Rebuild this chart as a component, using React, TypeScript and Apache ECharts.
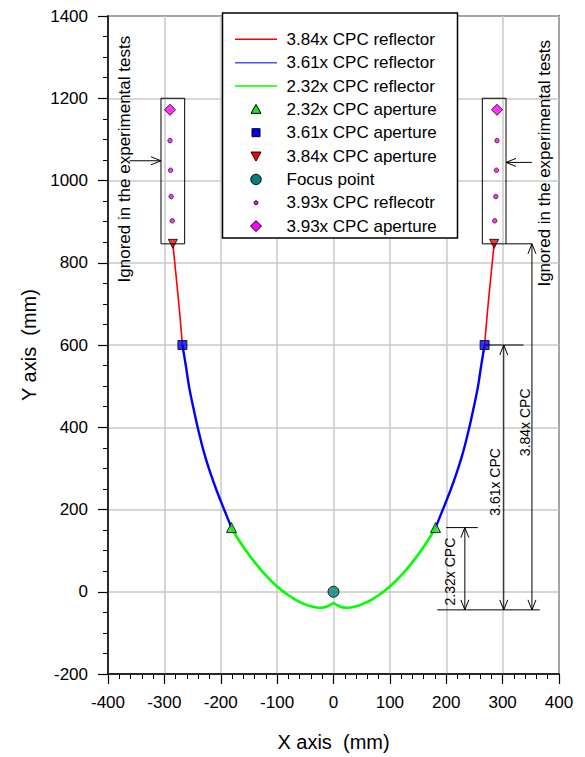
import React, { useEffect, useRef } from "react";
import * as echarts from "echarts";

const FONT = 'Arial, "Liberation Sans", Helvetica, sans-serif';

// Right half of each reflector profile (x >= 0); the left half is its mirror image
const cpc232X = [0, 7, 14, 23, 30, 40, 50, 60, 70, 80, 90, 100, 110, 120, 130, 140, 150, 160, 170, 181];
const cpc232Y = [-28, -33, -37, -39, -38.4, -35.5, -30.7, -24.6, -17.1, -8.4, 1.5, 12.8, 25.6, 39.6, 55, 72, 90, 109.5, 130, 156];
const cpc361X = [181, 194, 207, 218, 230, 241, 249, 256, 262, 268];
const cpc361Y = [156, 200, 245, 287, 340, 400, 450, 497, 550, 600];
const cpc384X = [268, 273, 279, 285];
const cpc384Y = [600, 680, 765, 846];
const cpc393X = [286, 288, 289, 290];
const cpc393Y = [902, 961, 1025, 1097];

// Apertures (right side x, y)
const aperture232 = [181, 156];
const aperture361 = [268, 600];
const aperture384 = [285, 846];
const aperture393 = [290, 1172];
const focusPoint = [0, 0];

const legendNames = [
  "3.84x CPC reflector",
  "3.61x CPC reflector",
  "2.32x CPC reflector",
  "2.32x CPC aperture",
  "3.61x CPC aperture",
  "3.84x CPC aperture",
  "Focus point",
  "3.93x CPC reflecotr",
  "3.93x CPC aperture",
];

const xTicks = { min: -400, max: 400, interval: 100 };
const yTicks = { min: -200, max: 1400, interval: 200 };

const RED = "#ff0000";
const BLUE = "#0000ff";
const GREEN = "#00ff00";
const TRI_GREEN = "#22dd22";
const TEAL = "#008080";
const MAGENTA = "#ff00ff";

const rightSide = (xs: number[], ys: number[]) => xs.map((x, i) => [x, ys[i]]);
const leftSide = (xs: number[], ys: number[]) => xs.map((x, i) => [-x, ys[i]]);
const pair = (p: number[]) => [[-p[0], p[1]], [p[0], p[1]]];

export default function App() {
  const ref = useRef<HTMLDivElement>(null);

  useEffect(() => {
    if (!ref.current) return;
    document.body.style.margin = "0";
    const chart = echarts.init(ref.current, null, { renderer: "svg" });

    const lineSeries = (name: string, color: string, width: number, data: number[][]) => ({
      name,
      type: "line",
      data,
      symbol: "none",
      smooth: 0.3,
      lineStyle: { color, width },
      itemStyle: { color },
      z: 3,
    });

    const green = [
      ...leftSide(cpc232X, cpc232Y).reverse(),
      ...rightSide(cpc232X, cpc232Y).slice(1),
    ];

    const axisCommon = {
      type: "value",
      nameLocation: "middle",
      nameTextStyle: { fontSize: 20, color: "#000", fontFamily: FONT },
      axisLine: { show: true, onZero: false, lineStyle: { color: "#000", width: 1.5 } },
      axisTick: { show: true, length: 10, lineStyle: { color: "#000", width: 1.2 } },
      axisLabel: { fontSize: 17, color: "#000", margin: 20, fontFamily: FONT, formatter: (v: number) => String(v) },
      splitLine: { show: true, lineStyle: { color: "#c8c8c8", width: 1.5 } },
    };

    const option: any = {
      animation: false,
      textStyle: { fontFamily: FONT },
      grid: {
        left: 108,
        right: 26,
        top: 16,
        bottom: 82,
        show: true,
        borderColor: "#000",
        borderWidth: 1.5,
        backgroundColor: "transparent",
      },
      xAxis: {
        ...axisCommon,
        ...xTicks,
        name: "X axis  (mm)",
        nameGap: 58,
        minorTick: { show: true, splitNumber: 5, length: 5, lineStyle: { color: "#000", width: 1 } },
      },
      yAxis: {
        ...axisCommon,
        ...yTicks,
        name: "Y axis  (mm)",
        nameRotate: 90,
        nameGap: 53,
        minorTick: { show: true, splitNumber: 4, length: 5, lineStyle: { color: "#000", width: 1 } },
      },
      series: [
        lineSeries(legendNames[0], RED, 1.6, leftSide(cpc384X, cpc384Y)),
        lineSeries(legendNames[0], RED, 1.6, rightSide(cpc384X, cpc384Y)),
        lineSeries(legendNames[1], BLUE, 2.4, leftSide(cpc361X, cpc361Y)),
        lineSeries(legendNames[1], BLUE, 2.4, rightSide(cpc361X, cpc361Y)),
        lineSeries(legendNames[2], GREEN, 2.6, green),
        {
          name: legendNames[3],
          type: "scatter",
          symbol: "triangle",
          symbolSize: 10,
          data: pair(aperture232),
          itemStyle: { color: TRI_GREEN, borderColor: "#000", borderWidth: 1 },
          z: 5,
        },
        {
          name: legendNames[4],
          type: "scatter",
          symbol: "rect",
          symbolSize: 9,
          data: pair(aperture361),
          itemStyle: { color: BLUE, borderColor: "#000", borderWidth: 1 },
          z: 5,
        },
        {
          name: legendNames[5],
          type: "scatter",
          symbol: "triangle",
          symbolRotate: 180,
          symbolSize: 9,
          data: pair(aperture384),
          itemStyle: { color: RED, borderColor: "#000", borderWidth: 1 },
          z: 5,
        },
        {
          name: legendNames[6],
          type: "scatter",
          symbol: "circle",
          symbolSize: 11,
          data: [focusPoint],
          itemStyle: { color: TEAL, borderColor: "#000", borderWidth: 1 },
          z: 5,
        },
        {
          name: legendNames[7],
          type: "scatter",
          symbol: "circle",
          symbolSize: 4.5,
          data: [...leftSide(cpc393X, cpc393Y), ...rightSide(cpc393X, cpc393Y)],
          itemStyle: { color: MAGENTA, borderColor: "#000", borderWidth: 0.8 },
          z: 5,
        },
        {
          name: legendNames[8],
          type: "scatter",
          symbol: "diamond",
          symbolSize: 11,
          data: pair(aperture393),
          itemStyle: { color: MAGENTA, borderColor: "#000", borderWidth: 1 },
          z: 5,
        },
      ],
    };

    chart.setOption(option);

    const P = (x: number, y: number) => chart.convertToPixel({ gridIndex: 0 }, [x, y]) as number[];
    const stroke = { stroke: "#000", lineWidth: 1, fill: "none" };
    const g: any[] = [];
    const line = (a: number[], b: number[]) =>
      g.push({ type: "line", shape: { x1: a[0], y1: a[1], x2: b[0], y2: b[1] }, style: stroke, z: 10 });
    const head = (tip: number[], from: number[]) => {
      const dx = from[0] - tip[0];
      const dy = from[1] - tip[1];
      const len = Math.hypot(dx, dy) || 1;
      const ux = dx / len, uy = dy / len;
      const L = 10, W = 4;
      g.push({
        type: "polyline",
        shape: {
          points: [
            [tip[0] + ux * L - uy * W, tip[1] + uy * L + ux * W],
            [tip[0], tip[1]],
            [tip[0] + ux * L + uy * W, tip[1] + uy * L - ux * W],
          ],
        },
        style: stroke,
        z: 10,
      });
    };
    const rectD = (x1: number, y1: number, x2: number, y2: number) => {
      const a = P(x1, y2), b = P(x2, y1);
      g.push({
        type: "rect",
        shape: { x: a[0], y: a[1], width: b[0] - a[0], height: b[1] - a[1] },
        style: stroke,
        z: 10,
      });
    };
    const vtext = (x: number, y: number, text: string, size: number) => {
      const p = P(x, y);
      g.push({
        type: "text",
        x: p[0],
        y: p[1],
        rotation: Math.PI / 2,
        style: { text, font: `${size}px ${FONT}`, fill: "#000", align: "center", verticalAlign: "middle" },
        z: 10,
      });
    };

    // boxes around the ignored 3.93x section
    rectD(-306, 846, -264, 1200);
    rectD(264, 846, 306, 1200);
    // pointer arrows
    line(P(-362, 1048), P(-306, 1048));
    head(P(-306, 1048), P(-362, 1048));
    line(P(352, 1044), P(306, 1044));
    head(P(306, 1044), P(352, 1044));
    vtext(-371, 1052, "Ignored in the experimental tests", 17);
    vtext(375, 1042, "Ignored in the experimental tests", 17);

    // dimension lines
    const base = -44;
    line(P(184, base), P(366, base));
    // 3.84x
    line(P(306, 846), P(352, 846));
    line(P(352, 846), P(352, base));
    head(P(352, 846), P(352, base));
    head(P(352, base), P(352, 846));
    vtext(339, 412, "3.84x CPC", 14);
    // 3.61x
    line(P(268, 600), P(337, 600));
    line(P(302, 600), P(302, base));
    head(P(302, 600), P(302, base));
    head(P(302, base), P(302, 600));
    vtext(286, 267, "3.61x CPC", 14);
    // 2.32x
    line(P(200, 156), P(256, 156));
    line(P(233, 156), P(233, base));
    head(P(233, 156), P(233, base));
    head(P(233, base), P(233, 156));
    vtext(206, 49, "2.32x CPC", 14);

    // Legend (drawn as a box with sample marks and labels)
    const LX = 222.5, LY = 13, LW = 235, LH = 225;
    const rowY = (i: number) => 39.3 + i * 23.35;
    const cx = 256;
    const legendBox: any[] = [
      { type: "rect", shape: { x: LX, y: LY, width: LW, height: LH }, style: { fill: "#fff", stroke: "#000", lineWidth: 1.5 }, z: 20 },
    ];
    const lineItem = (i: number, color: string) =>
      legendBox.push({ type: "line", shape: { x1: 235, y1: rowY(i), x2: 277, y2: rowY(i) }, style: { stroke: color, lineWidth: 1.5 }, z: 21 });
    lineItem(0, RED);
    lineItem(1, "#4455ff");
    lineItem(2, GREEN);
    const sym = { stroke: "#000", lineWidth: 1 };
    legendBox.push({ type: "polygon", shape: { points: [[cx - 5, rowY(3) + 4], [cx + 5, rowY(3) + 4], [cx, rowY(3) - 5]] }, style: { ...sym, fill: TRI_GREEN }, z: 21 });
    legendBox.push({ type: "rect", shape: { x: cx - 4, y: rowY(4) - 4, width: 8, height: 8 }, style: { ...sym, fill: BLUE }, z: 21 });
    legendBox.push({ type: "polygon", shape: { points: [[cx - 5, rowY(5) - 4], [cx + 5, rowY(5) - 4], [cx, rowY(5) + 5]] }, style: { ...sym, fill: RED }, z: 21 });
    legendBox.push({ type: "circle", shape: { cx, cy: rowY(6), r: 5.2 }, style: { ...sym, fill: TEAL }, z: 21 });
    legendBox.push({ type: "circle", shape: { cx, cy: rowY(7), r: 2 }, style: { stroke: "#000", lineWidth: 0.8, fill: MAGENTA }, z: 21 });
    legendBox.push({ type: "polygon", shape: { points: [[cx, rowY(8) - 5.5], [cx + 5.5, rowY(8)], [cx, rowY(8) + 5.5], [cx - 5.5, rowY(8)]] }, style: { ...sym, fill: MAGENTA }, z: 21 });
    legendNames.forEach((n, i) =>
      legendBox.push({
        type: "text",
        x: 286.5,
        y: rowY(i),
        style: { text: n, font: `17px ${FONT}`, fill: "#000", align: "left", verticalAlign: "middle" },
        z: 21,
      })
    );

    chart.setOption({ graphic: [...g, ...legendBox] });

    return () => chart.dispose();
  }, []);

  return <div ref={ref} style={{ width: 585, height: 757 }} />;
}
